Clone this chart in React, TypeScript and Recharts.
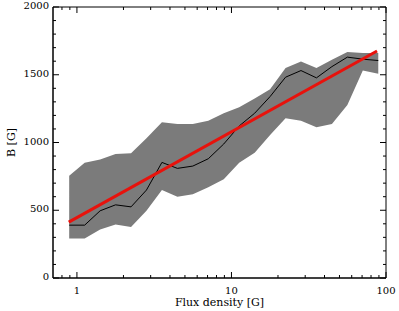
import React from 'react';
import { ComposedChart, XAxis, YAxis, Area, Line, ReferenceArea } from 'recharts';

// Flux density bins [G]
const fluxDensity = [0.891, 1.122, 1.413, 1.778, 2.239, 2.818, 3.548, 4.467, 5.623, 7.079, 8.913, 11.22, 14.13, 17.78, 22.39, 28.18, 35.48, 44.67, 56.23, 70.79, 89.13];
// Mean field strength B [G]
const meanB = [390, 390, 496, 540, 525, 649, 853, 809, 826, 880, 989, 1122, 1216, 1339, 1482, 1531, 1477, 1560, 1630, 1615, 1605];
// Lower / upper envelope of B [G]
const lowerB = [291, 291, 358, 395, 377, 496, 649, 599, 619, 669, 728, 851, 925, 1055, 1179, 1161, 1112, 1137, 1277, 1531, 1507];
const upperB = [755, 851, 875, 915, 920, 1031, 1149, 1137, 1137, 1160, 1216, 1260, 1324, 1393, 1549, 1598, 1549, 1610, 1667, 1660, 1660];
// Fit line end points
const fitFlux = [0.885, 87.5];
const fitB = [412, 1675];

const xTicks = [0.8, 0.9, 1, 2, 3, 4, 5, 6, 7, 8, 9, 10, 20, 30, 40, 50, 60, 70, 80, 90, 100];
const xMajor = [1, 10, 100];
const yTicks = [0, 100, 200, 300, 400, 500, 600, 700, 800, 900, 1000, 1100, 1200, 1300, 1400, 1500, 1600, 1700, 1800, 1900, 2000];
const yMajor = [0, 500, 1000, 1500, 2000];

const W = 399;
const H = 311;
const margin = { top: 7, right: 13, bottom: 3, left: 8 };
const yAxisWidth = 45;
const xAxisHeight = 30;
const plotW = W - margin.left - margin.right - yAxisWidth;
const plotH = H - margin.top - margin.bottom - xAxisHeight;
const FONT = '"DejaVu Serif", serif';

const data = fluxDensity.map((x, i) => ({ x, mean: meanB[i], band: [lowerB[i], upperB[i]] }));
const fitData = fitFlux.map((x, i) => ({ x, fit: fitB[i] }));

function XTick(props: any) {
  const { x, y, payload } = props;
  const v = payload.value;
  const major = xMajor.includes(v);
  const len = major ? 6 : 3;
  return (
    <g>
      <line x1={x} y1={y} x2={x} y2={y - len} stroke="#000" strokeWidth={1} />
      <line x1={x} y1={y - plotH} x2={x} y2={y - plotH + len} stroke="#000" strokeWidth={1} />
      {major && (
        <text x={x} y={y + 16} textAnchor="middle" fontSize={10} fontFamily={FONT} fill="#000">
          {v}
        </text>
      )}
    </g>
  );
}

function YTick(props: any) {
  const { x, y, payload } = props;
  const v = payload.value;
  const major = yMajor.includes(v);
  const len = major ? 6 : 3;
  return (
    <g>
      <line x1={x} y1={y} x2={x + len} y2={y} stroke="#000" strokeWidth={1} />
      <line x1={x + plotW} y1={y} x2={x + plotW - len} y2={y} stroke="#000" strokeWidth={1} />
      {major && (
        <text x={x - 4} y={y + 2} textAnchor="end" fontSize={10} fontFamily={FONT} fill="#000">
          {v}
        </text>
      )}
    </g>
  );
}

export default function App() {
  return (
    <div style={{ position: 'absolute', left: 0, top: 0, background: '#fff' }}>
      <ComposedChart width={W} height={H} data={data} margin={margin}>
        <XAxis
          dataKey="x"
          type="number"
          scale="log"
          domain={[0.7, 100]}
          allowDataOverflow
          ticks={xTicks}
          interval={0}
          tick={(p: any) => <XTick {...p} />}
          tickSize={0}
          tickMargin={0}
          tickLine={false}
          height={xAxisHeight}
          axisLine={{ stroke: '#000' }}
          label={{ value: 'Flux density [G]', position: 'insideBottom', offset: 2, fontSize: 11, fontFamily: FONT, fill: '#000' }}
        />
        <YAxis
          type="number"
          domain={[0, 2000]}
          ticks={yTicks}
          interval={0}
          tick={(p: any) => <YTick {...p} />}
          tickSize={0}
          tickMargin={0}
          tickLine={false}
          width={yAxisWidth}
          axisLine={{ stroke: '#000' }}
          label={{ value: 'B [G]', angle: -90, position: 'insideLeft', offset: 3, fontSize: 11, fontFamily: FONT, fill: '#000', style: { textAnchor: 'middle' } }}
        />
        <Area
          type="linear"
          dataKey="band"
          stroke="none"
          fill="#7b7b7b"
          fillOpacity={1}
          isAnimationActive={false}
        />
        <Line type="linear" dataKey="mean" stroke="#000" strokeWidth={1} dot={false} isAnimationActive={false} />
        <Line type="linear" data={fitData} dataKey="fit" stroke="#e8120c" strokeWidth={3} dot={false} isAnimationActive={false} />
        <ReferenceArea x1={0.7} x2={100} y1={0} y2={2000} fill="none" stroke="#000" strokeWidth={1} ifOverflow="visible" />
      </ComposedChart>
    </div>
  );
}
